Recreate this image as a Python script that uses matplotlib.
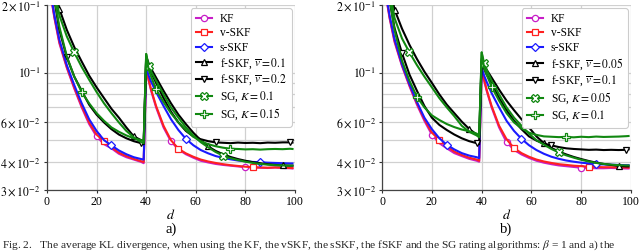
import matplotlib
matplotlib.use("Agg")
import matplotlib.pyplot as plt
from matplotlib.ticker import FixedLocator, FixedFormatter, NullFormatter

plt.rcParams['font.family'] = ['Liberation Serif', 'DejaVu Serif']
plt.rcParams['mathtext.fontset'] = 'stix'

# sample positions (d)
d = [1, 2, 3, 5, 8, 11, 14, 17, 20, 23, 26, 29, 32, 35, 38, 39,
     40, 41, 42, 44, 47, 50, 53, 56, 59, 62, 65, 68, 71, 74, 77, 80, 83, 86, 89, 92, 95, 98, 99]

# ---------- panel a) ----------
kf_a = [0.30, 0.205, 0.175, 0.135, 0.105, 0.085, 0.070, 0.059, 0.052, 0.048, 0.046, 0.0435, 0.042, 0.041, 0.040, 0.0395,
        0.103, 0.092, 0.083, 0.070, 0.057, 0.0494, 0.0455, 0.0433, 0.0418, 0.0405, 0.0398, 0.0392, 0.0388, 0.0385, 0.0382,
        0.0379, 0.0378, 0.0377, 0.0376, 0.0378, 0.0376, 0.0375, 0.0374]
vskf_a = [0.30, 0.207, 0.177, 0.137, 0.106, 0.086, 0.071, 0.060, 0.053, 0.0494, 0.0465, 0.044, 0.0425, 0.0413, 0.0403, 0.040,
          0.104, 0.093, 0.084, 0.071, 0.058, 0.050, 0.0458, 0.0437, 0.0422, 0.041, 0.0402, 0.0396, 0.0391, 0.0387, 0.0384,
          0.0381, 0.0379, 0.0378, 0.0377, 0.0378, 0.0377, 0.0376, 0.0376]
sskf_a = [0.31, 0.21, 0.18, 0.14, 0.108, 0.088, 0.073, 0.062, 0.055, 0.050, 0.0474, 0.045, 0.0433, 0.042, 0.0412, 0.041,
          0.105, 0.097, 0.091, 0.082, 0.071, 0.062, 0.0555, 0.0507, 0.0475, 0.0452, 0.0437, 0.0425, 0.0417, 0.0411, 0.0406,
          0.0403, 0.0400, 0.0399, 0.0397, 0.0396, 0.0395, 0.0394, 0.0394]
fskf1_a = [0.40, 0.30, 0.245, 0.192, 0.155, 0.130, 0.112, 0.097, 0.086, 0.077, 0.069, 0.063, 0.057, 0.052, 0.050, 0.049,
           0.118, 0.110, 0.104, 0.095, 0.083, 0.073, 0.065, 0.059, 0.054, 0.050, 0.0469, 0.0448, 0.0433, 0.0421, 0.0412,
           0.0405, 0.0399, 0.0395, 0.0391, 0.0388, 0.0386, 0.0385, 0.0385]
fskf2_a = [0.35, 0.26, 0.21, 0.155, 0.117, 0.096, 0.083, 0.072, 0.065, 0.060, 0.056, 0.053, 0.051, 0.0495, 0.0485, 0.048,
           0.116, 0.107, 0.100, 0.090, 0.077, 0.067, 0.060, 0.055, 0.052, 0.0505, 0.0495, 0.0489, 0.0487, 0.0485, 0.0488,
           0.0486, 0.0487, 0.0485, 0.0488, 0.0487, 0.0489, 0.0489, 0.0488]
sg1_a = [0.38, 0.29, 0.235, 0.180, 0.145, 0.123, 0.106, 0.093, 0.082, 0.073, 0.066, 0.060, 0.055, 0.0515, 0.049, 0.0485,
         0.121, 0.107, 0.101, 0.092, 0.080, 0.070, 0.063, 0.057, 0.0525, 0.049, 0.0465, 0.0443, 0.0427, 0.0416, 0.0408,
         0.0401, 0.0396, 0.0392, 0.0389, 0.0387, 0.0386, 0.0385, 0.0385]
sg2_a = [0.36, 0.27, 0.215, 0.160, 0.118, 0.096, 0.0819, 0.073, 0.066, 0.061, 0.057, 0.0545, 0.0525, 0.051, 0.050, 0.0495,
         0.121, 0.103, 0.096, 0.0842, 0.074, 0.066, 0.060, 0.0555, 0.0518, 0.0495, 0.048, 0.0470, 0.0463, 0.0458, 0.0457,
         0.0455, 0.0456, 0.0454, 0.0456, 0.0457, 0.0456, 0.0458, 0.0457]

# ---------- panel b) ----------
kf_b = [0.30, 0.205, 0.175, 0.137, 0.107, 0.087, 0.072, 0.061, 0.0529, 0.0485, 0.046, 0.0438, 0.0425, 0.0413, 0.0405, 0.0401,
        0.103, 0.092, 0.083, 0.070, 0.057, 0.049, 0.0453, 0.0432, 0.0417, 0.0405, 0.0397, 0.0391, 0.0386, 0.0383, 0.038,
        0.0377, 0.0376, 0.0375, 0.0375, 0.0376, 0.0375, 0.0374, 0.0374]
vskf_b = [0.30, 0.207, 0.177, 0.139, 0.108, 0.088, 0.073, 0.062, 0.054, 0.0502, 0.047, 0.0445, 0.043, 0.0418, 0.041, 0.0405,
          0.104, 0.093, 0.084, 0.071, 0.058, 0.0505, 0.0461, 0.0438, 0.0422, 0.041, 0.0402, 0.0396, 0.0391, 0.0388, 0.0385,
          0.0383, 0.0381, 0.038, 0.0379, 0.0379, 0.0378, 0.0378, 0.0377]
sskf_b = [0.31, 0.21, 0.18, 0.141, 0.109, 0.089, 0.074, 0.063, 0.056, 0.051, 0.0477, 0.0455, 0.0438, 0.0427, 0.042, 0.0416,
          0.105, 0.097, 0.091, 0.081, 0.070, 0.061, 0.055, 0.0507, 0.0475, 0.0452, 0.0435, 0.0422, 0.0413, 0.0406, 0.0401,
          0.0397, 0.0394, 0.0391, 0.039, 0.0389, 0.0388, 0.0387, 0.0387]
fskf1_b = [0.40, 0.30, 0.245, 0.191, 0.157, 0.133, 0.115, 0.101, 0.090, 0.080, 0.072, 0.066, 0.0605, 0.0561, 0.053, 0.052,
           0.115, 0.108, 0.103, 0.095, 0.084, 0.075, 0.068, 0.062, 0.057, 0.052, 0.0485, 0.0462, 0.0445, 0.0432, 0.0421,
           0.0412, 0.0404, 0.0397, 0.0392, 0.0388, 0.0384, 0.0382, 0.0382]
fskf2_b = [0.35, 0.26, 0.21, 0.158, 0.122, 0.098, 0.083, 0.071, 0.063, 0.0585, 0.0555, 0.053, 0.051, 0.0495, 0.0485, 0.048,
           0.112, 0.104, 0.098, 0.090, 0.077, 0.068, 0.061, 0.056, 0.052, 0.0498, 0.0483, 0.0474, 0.0466, 0.046, 0.0457,
           0.0455, 0.0453, 0.0454, 0.0452, 0.0453, 0.0452, 0.0453, 0.0455]
sg1_b = [0.38, 0.29, 0.235, 0.175, 0.142, 0.123, 0.108, 0.096, 0.086, 0.077, 0.070, 0.064, 0.058, 0.0545, 0.0525, 0.0515,
         0.123, 0.110, 0.103, 0.092, 0.080, 0.070, 0.063, 0.058, 0.0535, 0.050, 0.0478, 0.0457, 0.0441, 0.0428, 0.0418,
         0.0409, 0.0402, 0.0396, 0.0392, 0.0389, 0.0387, 0.0386, 0.0386]
sg2_b = [0.36, 0.27, 0.215, 0.155, 0.113, 0.092, 0.078, 0.070, 0.0645, 0.0615, 0.059, 0.0572, 0.0558, 0.0548, 0.0535, 0.0525,
         0.123, 0.105, 0.098, 0.0866, 0.075, 0.066, 0.060, 0.0565, 0.054, 0.0528, 0.052, 0.0518, 0.0516, 0.0517, 0.0515,
         0.0518, 0.0516, 0.0519, 0.0517, 0.0518, 0.0519, 0.0521, 0.0522]

labels_a = ['KF', 'v-SKF', 's-SKF', r'f-SKF, $\overline{v}=0.1$', r'f-SKF, $\overline{v}=0.2$',
            r'SG, $K=0.1$', r'SG, $K=0.15$']
labels_b = ['KF', 'v-SKF', 's-SKF', r'f-SKF, $\overline{v}=0.05$', r'f-SKF, $\overline{v}=0.1$',
            r'SG, $K=0.05$', r'SG, $K=0.1$']

colors = ['#c81ec8', '#ff2020', '#1a1aff', 'black', 'black', '#118811', '#118811']
markers = ['o', 's', 'D', '^', 'v', 'X', 'P']
mark_d = [[20, 50, 80], [23, 53, 83], [26, 56, 86], [5, 35, 65, 95], [8, 38, 68, 98], [11, 41, 71], [14, 44, 74]]

yticks = [0.03, 0.04, 0.06, 0.1, 0.2]
yticklabels = [r'$3\times10^{-2}$', r'$4\times10^{-2}$', r'$6\times10^{-2}$', r'$10^{-1}$', r'$2\times10^{-1}$']
yminor = [0.05, 0.07, 0.08, 0.09]
xticks = [0, 20, 40, 60, 80, 100]

fig = plt.figure(figsize=(6.4, 2.52), dpi=100)
ax_a = fig.add_axes([0.0734, 0.246, 0.3875, 0.734])
ax_b = fig.add_axes([0.597, 0.246, 0.389, 0.734])


def draw(ax, series, labels, panel):
    for s, lab, c, m, md in zip(series, labels, colors, markers, mark_d):
        idx = [i for i, v in enumerate(d) if v in md]
        ax.plot(d, s, color=c, lw=1.5, marker=m, markevery=idx, ms=4.5 if m not in ('X', 'P') else 5.5,
                mfc='white', mec=c, mew=0.9, label=lab, clip_on=True)
    ax.set_yscale('log')
    ax.set_ylim(0.03, 0.2)
    ax.set_xlim(0, 100)
    ax.yaxis.set_major_locator(FixedLocator(yticks))
    ax.yaxis.set_major_formatter(FixedFormatter(yticklabels))
    ax.yaxis.set_minor_locator(FixedLocator(yminor))
    ax.yaxis.set_minor_formatter(NullFormatter())
    ax.set_xticks(xticks)
    ax.grid(True, which='both', color='#d0d0d0', lw=0.9)
    ax.set_axisbelow(True)
    ax.tick_params(axis='both', which='major', labelsize=8.5, length=2.5, width=0.8, pad=2, colors='#333333',
                   labelcolor='black')
    ax.tick_params(axis='y', which='minor', length=0)
    for sp in ['top', 'right']:
        ax.spines[sp].set_visible(False)
    for sp in ['left', 'bottom']:
        ax.spines[sp].set_color('#444444')
        ax.spines[sp].set_linewidth(0.9)
    ax.set_xlabel(r'$d$', fontsize=10, labelpad=0)
    leg = ax.legend(loc='upper right', fontsize=8.3, handlelength=1.4, handletextpad=0.7,
                    labelspacing=0.2, borderpad=0.4, framealpha=1.0, edgecolor='#cccccc',
                    fancybox=True, borderaxespad=0.3)
    leg.get_frame().set_linewidth(0.8)
    ax.text(0.5, -0.21, panel, transform=ax.transAxes, ha='center', va='center', fontsize=10.5)


draw(ax_a, [kf_a, vskf_a, sskf_a, fskf1_a, fskf2_a, sg1_a, sg2_a], labels_a, 'a)')
draw(ax_b, [kf_b, vskf_b, sskf_b, fskf1_b, fskf2_b, sg1_b, sg2_b], labels_b, 'b)')

fig.text(0.003, 0.028,
         'Fig. 2.   The average KL divergence, when using the KF, the vSKF, the sSKF, the fSKF and the SG rating algorithms: '
         r'$\beta$ = 1 and a) the',
         fontsize=8.2, ha='left', va='center', color='#222222')

fig.savefig('out.png', dpi=100)
